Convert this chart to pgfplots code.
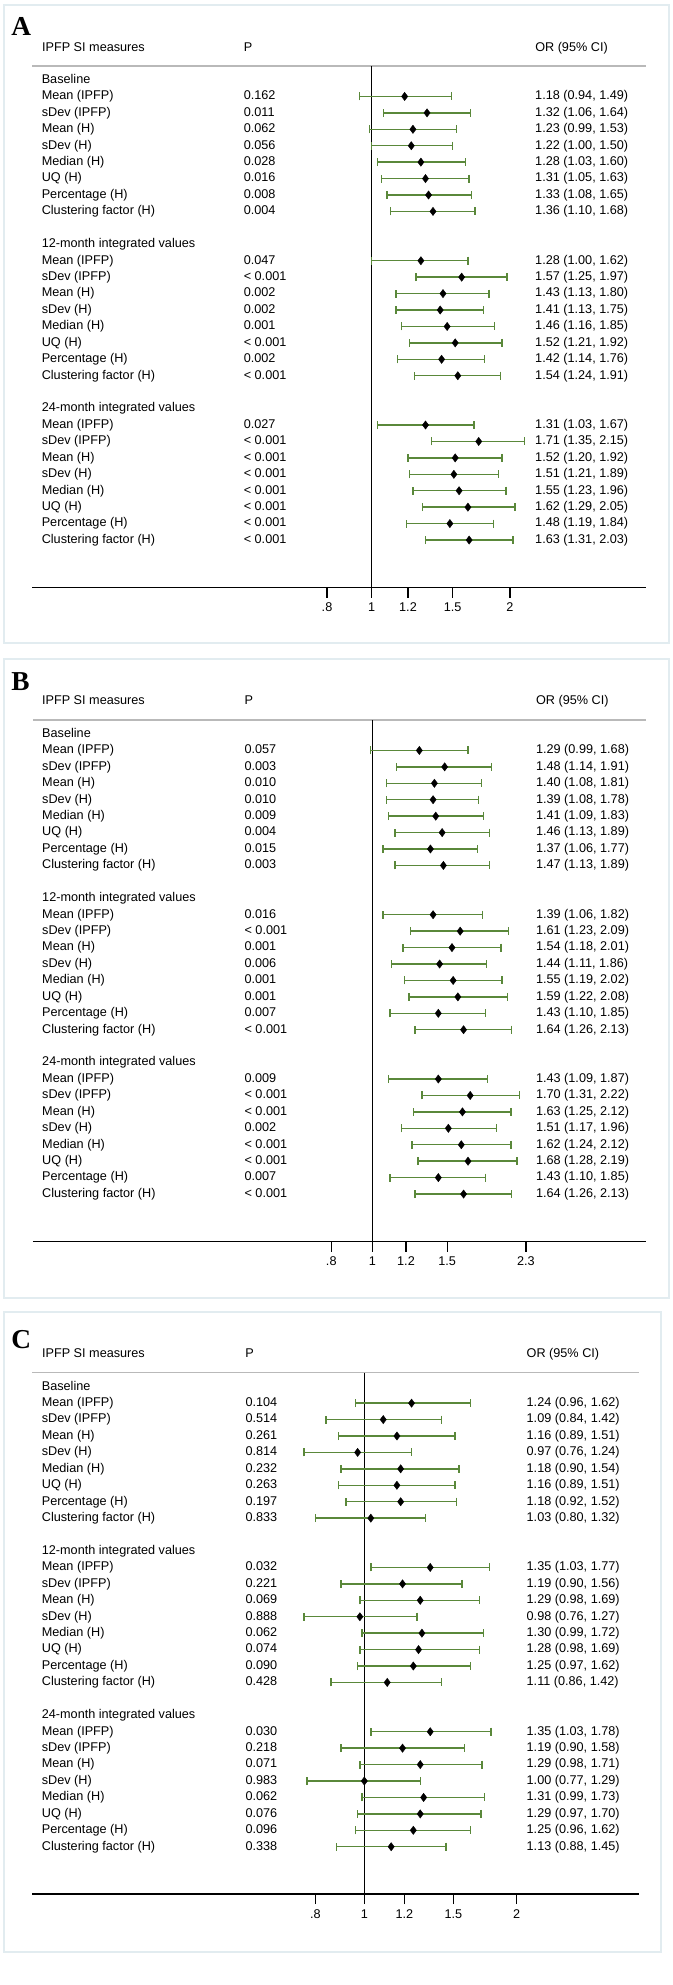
\documentclass[border=0pt]{standalone}
\usepackage{fontspec}
\setmainfont{Liberation Sans}
\newfontfamily\letterfont{Liberation Serif}
\usepackage{pgfplots}
\pgfplotsset{compat=1.18}
\usepackage{pgfplotstable}

\definecolor{cigreen}{RGB}{90,136,58}
\definecolor{panelborder}{RGB}{226,236,240}
\definecolor{headline}{RGB}{185,185,185}
\newcommand{\tf}{\fontsize{9.5}{11}\selectfont}

\pgfplotstableread[col sep=semicolon]{
r;label
0;Baseline
10;12-month integrated values
20;24-month integrated values
}\groups

\pgfplotstableread[col sep=semicolon]{
r;label;p;or;est;lo;hi
1;Mean (IPFP);0.162;1.18 (0.94, 1.49);1.18;0.94;1.49
2;sDev (IPFP);0.011;1.32 (1.06, 1.64);1.32;1.06;1.64
3;Mean (H);0.062;1.23 (0.99, 1.53);1.23;0.99;1.53
4;sDev (H);0.056;1.22 (1.00, 1.50);1.22;1.00;1.50
5;Median (H);0.028;1.28 (1.03, 1.60);1.28;1.03;1.60
6;UQ (H);0.016;1.31 (1.05, 1.63);1.31;1.05;1.63
7;Percentage (H);0.008;1.33 (1.08, 1.65);1.33;1.08;1.65
8;Clustering factor (H);0.004;1.36 (1.10, 1.68);1.36;1.10;1.68
11;Mean (IPFP);0.047;1.28 (1.00, 1.62);1.28;1.00;1.62
12;sDev (IPFP);< 0.001;1.57 (1.25, 1.97);1.57;1.25;1.97
13;Mean (H);0.002;1.43 (1.13, 1.80);1.43;1.13;1.80
14;sDev (H);0.002;1.41 (1.13, 1.75);1.41;1.13;1.75
15;Median (H);0.001;1.46 (1.16, 1.85);1.46;1.16;1.85
16;UQ (H);< 0.001;1.52 (1.21, 1.92);1.52;1.21;1.92
17;Percentage (H);0.002;1.42 (1.14, 1.76);1.42;1.14;1.76
18;Clustering factor (H);< 0.001;1.54 (1.24, 1.91);1.54;1.24;1.91
21;Mean (IPFP);0.027;1.31 (1.03, 1.67);1.31;1.03;1.67
22;sDev (IPFP);< 0.001;1.71 (1.35, 2.15);1.71;1.35;2.15
23;Mean (H);< 0.001;1.52 (1.20, 1.92);1.52;1.20;1.92
24;sDev (H);< 0.001;1.51 (1.21, 1.89);1.51;1.21;1.89
25;Median (H);< 0.001;1.55 (1.23, 1.96);1.55;1.23;1.96
26;UQ (H);< 0.001;1.62 (1.29, 2.05);1.62;1.29;2.05
27;Percentage (H);< 0.001;1.48 (1.19, 1.84);1.48;1.19;1.84
28;Clustering factor (H);< 0.001;1.63 (1.31, 2.03);1.63;1.31;2.03
}\tabA

\pgfplotstableread[col sep=semicolon]{
r;label;p;or;est;lo;hi
1;Mean (IPFP);0.057;1.29 (0.99, 1.68);1.29;0.99;1.68
2;sDev (IPFP);0.003;1.48 (1.14, 1.91);1.48;1.14;1.91
3;Mean (H);0.010;1.40 (1.08, 1.81);1.40;1.08;1.81
4;sDev (H);0.010;1.39 (1.08, 1.78);1.39;1.08;1.78
5;Median (H);0.009;1.41 (1.09, 1.83);1.41;1.09;1.83
6;UQ (H);0.004;1.46 (1.13, 1.89);1.46;1.13;1.89
7;Percentage (H);0.015;1.37 (1.06, 1.77);1.37;1.06;1.77
8;Clustering factor (H);0.003;1.47 (1.13, 1.89);1.47;1.13;1.89
11;Mean (IPFP);0.016;1.39 (1.06, 1.82);1.39;1.06;1.82
12;sDev (IPFP);< 0.001;1.61 (1.23, 2.09);1.61;1.23;2.09
13;Mean (H);0.001;1.54 (1.18, 2.01);1.54;1.18;2.01
14;sDev (H);0.006;1.44 (1.11, 1.86);1.44;1.11;1.86
15;Median (H);0.001;1.55 (1.19, 2.02);1.55;1.19;2.02
16;UQ (H);0.001;1.59 (1.22, 2.08);1.59;1.22;2.08
17;Percentage (H);0.007;1.43 (1.10, 1.85);1.43;1.10;1.85
18;Clustering factor (H);< 0.001;1.64 (1.26, 2.13);1.64;1.26;2.13
21;Mean (IPFP);0.009;1.43 (1.09, 1.87);1.43;1.09;1.87
22;sDev (IPFP);< 0.001;1.70 (1.31, 2.22);1.70;1.31;2.22
23;Mean (H);< 0.001;1.63 (1.25, 2.12);1.63;1.25;2.12
24;sDev (H);0.002;1.51 (1.17, 1.96);1.51;1.17;1.96
25;Median (H);< 0.001;1.62 (1.24, 2.12);1.62;1.24;2.12
26;UQ (H);< 0.001;1.68 (1.28, 2.19);1.68;1.28;2.19
27;Percentage (H);0.007;1.43 (1.10, 1.85);1.43;1.10;1.85
28;Clustering factor (H);< 0.001;1.64 (1.26, 2.13);1.64;1.26;2.13
}\tabB

\pgfplotstableread[col sep=semicolon]{
r;label;p;or;est;lo;hi
1;Mean (IPFP);0.104;1.24 (0.96, 1.62);1.24;0.96;1.62
2;sDev (IPFP);0.514;1.09 (0.84, 1.42);1.09;0.84;1.42
3;Mean (H);0.261;1.16 (0.89, 1.51);1.16;0.89;1.51
4;sDev (H);0.814;0.97 (0.76, 1.24);0.97;0.76;1.24
5;Median (H);0.232;1.18 (0.90, 1.54);1.18;0.90;1.54
6;UQ (H);0.263;1.16 (0.89, 1.51);1.16;0.89;1.51
7;Percentage (H);0.197;1.18 (0.92, 1.52);1.18;0.92;1.52
8;Clustering factor (H);0.833;1.03 (0.80, 1.32);1.03;0.80;1.32
11;Mean (IPFP);0.032;1.35 (1.03, 1.77);1.35;1.03;1.77
12;sDev (IPFP);0.221;1.19 (0.90, 1.56);1.19;0.90;1.56
13;Mean (H);0.069;1.29 (0.98, 1.69);1.29;0.98;1.69
14;sDev (H);0.888;0.98 (0.76, 1.27);0.98;0.76;1.27
15;Median (H);0.062;1.30 (0.99, 1.72);1.30;0.99;1.72
16;UQ (H);0.074;1.28 (0.98, 1.69);1.28;0.98;1.69
17;Percentage (H);0.090;1.25 (0.97, 1.62);1.25;0.97;1.62
18;Clustering factor (H);0.428;1.11 (0.86, 1.42);1.11;0.86;1.42
21;Mean (IPFP);0.030;1.35 (1.03, 1.78);1.35;1.03;1.78
22;sDev (IPFP);0.218;1.19 (0.90, 1.58);1.19;0.90;1.58
23;Mean (H);0.071;1.29 (0.98, 1.71);1.29;0.98;1.71
24;sDev (H);0.983;1.00 (0.77, 1.29);1.00;0.77;1.29
25;Median (H);0.062;1.31 (0.99, 1.73);1.31;0.99;1.73
26;UQ (H);0.076;1.29 (0.97, 1.70);1.29;0.97;1.70
27;Percentage (H);0.096;1.25 (0.96, 1.62);1.25;0.96;1.62
28;Clustering factor (H);0.338;1.13 (0.88, 1.45);1.13;0.88;1.45
}\tabC

\pgfplotsset{
  txt/.style={only marks, mark=none, nodes near coords, point meta=explicit symbolic,
    every node near coord/.append style={anchor=west, inner sep=0pt, font=\tf,
      text height=0.75em, text depth=0.25em, black}},
  ci/.style={only marks, mark=diamond*, mark size=3.1pt,
    mark options={draw=black, fill=black, line width=0.3pt},
    error bars/x dir=both, error bars/x explicit,
    error bars/error mark=|,
    error bars/error bar style={cigreen, line width=1.05pt},
    error bars/error mark options={cigreen, mark size=3pt, line width=1.05pt}},
}

\begin{document}
\begin{tikzpicture}[font=\tf]
% ---------------- Panel A ----------------
\begin{axis}[xmode=log, scale only axis, anchor=north west, clip=false,
  at={(32.1*0.75pt,-66*0.75pt)}, width=460.7pt, height=391.125pt,
  xmin=0.1827, xmax=3.959, ymin=-30.89, ymax=0.852,
  axis x line*=bottom, axis y line=none,
  x axis line style={-, line width=1.1pt},
  xtick align=outside, major tick length=7.5pt,
  every tick/.style={black, line width=0.9pt},
  minor x tick num=0,
  xticklabel style={font=\tf, inner sep=0pt, anchor=north, yshift=-4pt},
  xtick={0.8,1,1.2,1.5,2}, xticklabels={.8,1,1.2,1.5,2}]
  \draw[headline, line width=0.9pt] (rel axis cs:0,1) -- (rel axis cs:1,1);
  \addplot[black, line width=0.8pt, forget plot] coordinates {(1,0.852) (1,-30.89)};
  \addplot[txt] table[x expr={exp((41.6-371.6)/199.7)}, y expr={-\thisrow{r}}, meta=label] {\groups};
  \addplot[txt] table[x expr={exp((41.6-371.6)/199.7)}, y expr={-\thisrow{r}}, meta=label] {\tabA};
  \addplot[txt] table[x expr={exp((243.5-371.6)/199.7)}, y expr={-\thisrow{r}}, meta=p] {\tabA};
  \addplot[txt] table[x expr={exp((535-371.6)/199.7)}, y expr={-\thisrow{r}}, meta=or] {\tabA};
  \addplot[ci] table[x=est, y expr={-\thisrow{r}},
    x error plus expr={\thisrow{hi}-\thisrow{est}},
    x error minus expr={\thisrow{est}-\thisrow{lo}}] {\tabA};
\end{axis}
% ---------------- Panel B ----------------
\begin{axis}[xmode=log, scale only axis, anchor=north west, clip=false,
  at={(33*0.75pt,-720*0.75pt)}, width=460.05pt, height=391.125pt,
  xmin=0.1586, xmax=4.422, ymin=-30.89, ymax=0.852,
  axis x line*=bottom, axis y line=none,
  x axis line style={-, line width=1.1pt},
  xtick align=outside, major tick length=7.5pt,
  every tick/.style={black, line width=0.9pt},
  minor x tick num=0,
  xticklabel style={font=\tf, inner sep=0pt, anchor=north, yshift=-4pt},
  xtick={0.8,1,1.2,1.5,2.3}, xticklabels={.8,1,1.2,1.5,2.3}]
  \draw[headline, line width=0.9pt] (rel axis cs:0,1) -- (rel axis cs:1,1);
  \addplot[black, line width=0.8pt, forget plot] coordinates {(1,0.852) (1,-30.89)};
  \addplot[txt] table[x expr={exp((42-372.4)/184.3)}, y expr={-\thisrow{r}}, meta=label] {\groups};
  \addplot[txt] table[x expr={exp((42-372.4)/184.3)}, y expr={-\thisrow{r}}, meta=label] {\tabB};
  \addplot[txt] table[x expr={exp((244.3-372.4)/184.3)}, y expr={-\thisrow{r}}, meta=p] {\tabB};
  \addplot[txt] table[x expr={exp((535.8-372.4)/184.3)}, y expr={-\thisrow{r}}, meta=or] {\tabB};
  \addplot[ci] table[x=est, y expr={-\thisrow{r}},
    x error plus expr={\thisrow{hi}-\thisrow{est}},
    x error minus expr={\thisrow{est}-\thisrow{lo}}] {\tabB};
\end{axis}
% ---------------- Panel C ----------------
\begin{axis}[xmode=log, scale only axis, anchor=north west, clip=false,
  at={(32.1*0.75pt,-1372.7*0.75pt)}, width=454.9pt, height=391.125pt,
  xmin=0.2203, xmax=3.487, ymin=-30.89, ymax=0.852,
  axis x line*=bottom, axis y line=none,
  x axis line style={-, line width=1.1pt},
  xtick align=outside, major tick length=7.5pt,
  every tick/.style={black, line width=0.9pt},
  minor x tick num=0,
  xticklabel style={font=\tf, inner sep=0pt, anchor=north, yshift=-4pt},
  xtick={0.8,1,1.2,1.5,2}, xticklabels={.8,1,1.2,1.5,2}]
  \draw[headline, line width=0.9pt] (rel axis cs:0,1) -- (rel axis cs:1,1);
  \addplot[black, line width=0.8pt, forget plot] coordinates {(1,0.852) (1,-30.89)};
  \addplot[txt] table[x expr={exp((41.6-364.3)/219.6)}, y expr={-\thisrow{r}}, meta=label] {\groups};
  \addplot[txt] table[x expr={exp((41.6-364.3)/219.6)}, y expr={-\thisrow{r}}, meta=label] {\tabC};
  \addplot[txt] table[x expr={exp((245.2-364.3)/219.6)}, y expr={-\thisrow{r}}, meta=p] {\tabC};
  \addplot[txt] table[x expr={exp((526.4-364.3)/219.6)}, y expr={-\thisrow{r}}, meta=or] {\tabC};
  \addplot[ci] table[x=est, y expr={-\thisrow{r}},
    x error plus expr={\thisrow{hi}-\thisrow{est}},
    x error minus expr={\thisrow{est}-\thisrow{lo}}] {\tabC};
\end{axis}
% ---------------- frames, letters, headers (pixel units) ----------------
\begin{scope}[x=0.75pt, y=-0.75pt]
  \path[use as bounding box] (0,0) rectangle (672,1985);
  \draw[panelborder, line width=1.5pt] (3.5,4.5) rectangle (668.5,643);
  \draw[panelborder, line width=1.5pt] (3.5,658.5) rectangle (668.5,1298);
  \draw[panelborder, line width=1.5pt] (3.5,1312) rectangle (661,1951.5);
  \foreach \L/\yb in {A/35, B/690.5, C/1348.5}
    \node[anchor=base west, inner sep=0pt, font=\letterfont\bfseries\fontsize{20.5}{20.5}\selectfont] at (11,\yb) {\L};
  \foreach \yh/\xp/\xo in {47.7/243.5/535, 701/244.3/535.8, 1354.3/245.2/526.4} {
    \node[anchor=west, inner sep=0pt, text height=0.75em, text depth=0.25em] at (41.8,\yh) {IPFP SI measures};
    \node[anchor=west, inner sep=0pt, text height=0.75em, text depth=0.25em] at (\xp,\yh) {P};
    \node[anchor=west, inner sep=0pt, text height=0.75em, text depth=0.25em] at (\xo,\yh) {OR (95\% CI)};
  }
\end{scope}
\end{tikzpicture}
\end{document}
